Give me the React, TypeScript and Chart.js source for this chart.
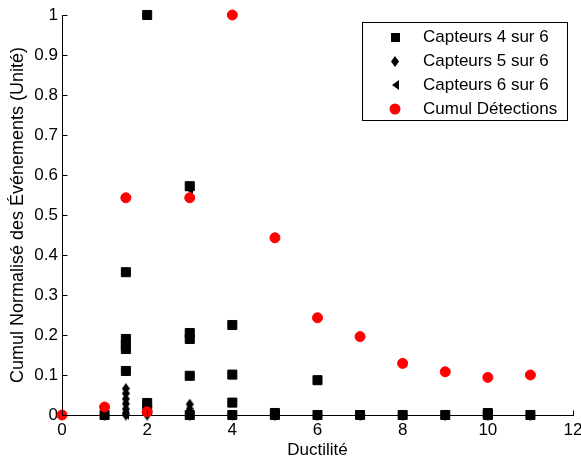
import React, { useEffect, useRef } from 'react';
import { Chart, registerables } from 'chart.js';

Chart.register(...registerables);

// ---- Data ----
const capteurs4X = [1, 1.5, 1.5, 1.5, 1.5, 1.5, 2, 2, 2, 3, 3, 3, 3, 3, 4, 4, 4, 4, 5, 5, 6, 6, 7, 8, 9, 10, 10, 11];
const capteurs4Y = [0, 0.357, 0.19, 0.175, 0.165, 0.11, 1.0, 0.03, 0.012, 0.572, 0.205, 0.19, 0.098, 0, 0.225, 0.101, 0.031, 0, 0.005, 0, 0.087, 0, 0, 0, 0, 0.005, 0, 0];

const capteurs5X = [1, 1.5, 1.5, 1.5, 1.5, 1.5, 1.5, 1.5, 2, 3, 3, 3, 3, 4, 5, 6, 7, 8, 9, 10, 11];
const capteurs5Y = [0, 0.066, 0.054, 0.04, 0.028, 0.015, 0.005, 0, 0, 0.027, 0.015, 0.005, 0, 0, 0, 0, 0, 0, 0, 0, 0];

const capteurs6X = [1, 1.5, 2, 3, 3, 4, 5, 6, 7, 8, 9, 10, 11];
const capteurs6Y = [0, 0, 1.0, 0.563, 0, 0, 0, 0, 0, 0, 0, 0, 0];

const cumulX = [0, 1, 1.5, 2, 3, 4, 5, 6, 7, 8, 9, 10, 11];
const cumulY = [0, 0.02, 0.543, 0.008, 0.543, 1.0, 0.443, 0.243, 0.196, 0.129, 0.108, 0.094, 0.1];

const seriesLabels = ['Capteurs 4 sur 6', 'Capteurs 5 sur 6', 'Capteurs 6 sur 6', 'Cumul Détections'];
const xTitle = 'Ductilité';
const yTitle = 'Cumul Normalisé des Événements (Unité)';

const FONT = '"Liberation Sans", Arial, Helvetica, sans-serif';

const toPoints = (xs: number[], ys: number[]) => xs.map((x, i) => ({ x, y: ys[i] }));

function makeDiamond(w: number, h: number, color: string) {
  const c = document.createElement('canvas');
  c.width = w; c.height = h;
  const g = c.getContext('2d')!;
  g.fillStyle = color;
  g.beginPath();
  g.moveTo(w / 2, 0);
  g.lineTo(w, h / 2);
  g.lineTo(w / 2, h);
  g.lineTo(0, h / 2);
  g.closePath();
  g.fill();
  return c;
}

function makeLeftTri(w: number, h: number, color: string) {
  const c = document.createElement('canvas');
  c.width = w; c.height = h;
  const g = c.getContext('2d')!;
  g.fillStyle = color;
  g.beginPath();
  g.moveTo(0, h / 2);
  g.lineTo(w, 0);
  g.lineTo(w, h);
  g.closePath();
  g.fill();
  return c;
}

const inwardTicks = {
  id: 'inwardTicks',
  afterDraw(chart: any) {
    const ctx = chart.ctx;
    const { x, y } = chart.scales;
    const area = chart.chartArea;
    ctx.save();
    ctx.strokeStyle = '#000';
    ctx.lineWidth = 1;
    ctx.beginPath();
    x.ticks.forEach((t: any) => {
      const px = Math.round(x.getPixelForValue(t.value)) + 0.5;
      const b = Math.round(area.bottom) + 0.5;
      ctx.moveTo(px, b);
      ctx.lineTo(px, b - 5);
    });
    y.ticks.forEach((t: any) => {
      const py = Math.round(y.getPixelForValue(t.value)) + 0.5;
      const l = Math.round(area.left) + 0.5;
      ctx.moveTo(l, py);
      ctx.lineTo(l + 5, py);
    });
    ctx.stroke();
    ctx.restore();
  },
};

const boxLegend = {
  id: 'boxLegend',
  afterDraw(chart: any) {
    const ctx = chart.ctx;
    ctx.save();
    const bx = 362.5, by = 22.5, bw = 205, bh = 98;
    ctx.fillStyle = '#fff';
    ctx.fillRect(bx, by, bw, bh);
    ctx.strokeStyle = '#000';
    ctx.lineWidth = 1;
    ctx.strokeRect(bx, by, bw, bh);
    chart.data.datasets.forEach((ds: any, i: number) => {
      const cy = 37 + i * 24;
      const mx = 395;
      const st = ds.pointStyle;
      ctx.fillStyle = ds.backgroundColor;
      if (st === 'rect') {
        ctx.fillRect(mx - 4, cy - 4, 9, 9);
      } else if (st === 'circle') {
        ctx.beginPath();
        ctx.arc(mx, cy, 5.5, 0, Math.PI * 2);
        ctx.fill();
      } else if (st && st.width) {
        ctx.drawImage(st, Math.round(mx - st.width / 2), Math.round(cy - st.height / 2));
      }
      ctx.fillStyle = '#000';
      ctx.font = `17px ${FONT}`;
      ctx.textBaseline = 'middle';
      ctx.textAlign = 'left';
      ctx.fillText(ds.label, 423, cy);
    });
    ctx.restore();
  },
};

export default function App() {
  const ref = useRef<HTMLCanvasElement>(null);

  useEffect(() => {
    if (!ref.current) return;
    const diamond = makeDiamond(8, 11, '#000');
    const leftTri = makeLeftTri(7, 10, '#000');

    const chart = new Chart(ref.current, {
      type: 'scatter',
      data: {
        datasets: [
          {
            label: seriesLabels[0],
            data: toPoints(capteurs4X, capteurs4Y),
            pointStyle: 'rect',
            pointRadius: 6.4,
            borderWidth: 1,
            backgroundColor: '#000',
            borderColor: '#000',
            order: 3,
            clip: false,
          },
          {
            label: seriesLabels[1],
            data: toPoints(capteurs5X, capteurs5Y),
            pointStyle: diamond,
            pointRadius: 5,
            backgroundColor: '#000',
            borderColor: '#000',
            order: 2,
            clip: false,
          },
          {
            label: seriesLabels[2],
            data: toPoints(capteurs6X, capteurs6Y),
            pointStyle: leftTri,
            pointRadius: 5,
            backgroundColor: '#000',
            borderColor: '#000',
            order: 1,
            clip: false,
          },
          {
            label: seriesLabels[3],
            data: toPoints(cumulX, cumulY),
            pointStyle: 'circle',
            pointRadius: 5,
            borderWidth: 1,
            backgroundColor: '#ff0000',
            borderColor: '#ff0000',
            order: 0,
            clip: false,
          },
        ] as any,
      },
      options: {
        responsive: false,
        animation: false,
        devicePixelRatio: 1,
        layout: { padding: { top: 15, right: 8, left: 0, bottom: 0 } },
        plugins: {
          legend: { display: false },
          tooltip: { enabled: false },
        },
        scales: {
          x: {
            type: 'linear',
            min: 0,
            max: 12,
            grid: { display: false, drawTicks: false },
            border: { display: true, color: '#000', width: 1 },
            ticks: { stepSize: 2, color: '#000', padding: 5, font: { family: FONT, size: 17 } },
            title: { display: true, text: xTitle, color: '#000', padding: { top: 0, bottom: 2 }, font: { family: FONT, size: 17 } },
            afterFit: (s: any) => {
              s.height = 48;
              s.paddingLeft = 0;
              s.paddingRight = 0;
            },
          },
          y: {
            type: 'linear',
            min: 0,
            max: 1,
            grid: { display: false, drawTicks: false },
            border: { display: true, color: '#000', width: 1 },
            ticks: {
              stepSize: 0.1,
              color: '#000',
              padding: 4,
              font: { family: FONT, size: 17 },
              callback: (v: any) => String(parseFloat(Number(v).toFixed(1))),
            },
            title: { display: true, text: yTitle, color: '#000', padding: { top: 7, bottom: 0 }, font: { family: FONT, size: 18 } },
            afterFit: (s: any) => {
              s.width = 62;
              s.paddingTop = 0;
              s.paddingBottom = 0;
            },
          },
        },
      } as any,
      plugins: [inwardTicks, boxLegend],
    });
    return () => chart.destroy();
  }, []);

  return (
    <div style={{ position: 'absolute', left: 0, top: 0, width: 581, height: 463, background: '#fff' }}>
      <canvas ref={ref} width={581} height={463} style={{ display: 'block' }} />
    </div>
  );
}
